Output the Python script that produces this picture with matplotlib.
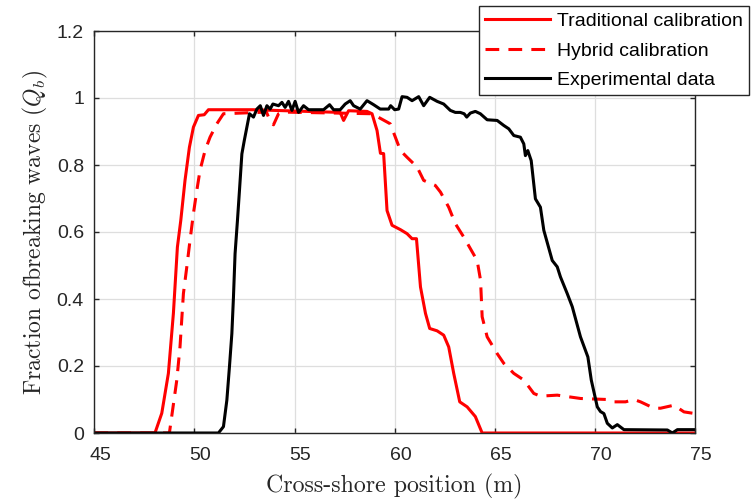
import numpy as np
import matplotlib
matplotlib.use('Agg')
import matplotlib.pyplot as plt
import matplotlib.transforms as mtransforms

# Data
# Traditional calibration (red solid)
x_trad = [45.0, 48.03, 48.37, 48.7, 48.95, 49.15, 49.32, 49.53, 49.75, 49.95, 50.2, 50.49, 50.7,
          52.9, 57.28, 57.45, 57.7, 58.62, 58.87, 59.12, 59.29, 59.45, 59.62, 59.87, 60.29, 60.62,
          60.87, 61.09, 61.29, 61.54, 61.75, 62.12, 62.45, 62.7, 62.95, 63.25, 63.62, 64.03, 64.37, 75.0]
q_trad = [0.0, 0.0, 0.059, 0.178, 0.357, 0.555, 0.635, 0.754, 0.853, 0.913, 0.948, 0.95, 0.965,
          0.965, 0.957, 0.933, 0.962, 0.96, 0.953, 0.903, 0.835, 0.834, 0.664, 0.62, 0.607, 0.595,
          0.58, 0.58, 0.436, 0.357, 0.312, 0.305, 0.292, 0.257, 0.178, 0.093, 0.078, 0.049, 0.0, 0.0]

# Hybrid calibration (red dashed)
x_hyb = [45.0, 48.75, 49.12, 49.28, 49.45, 49.62, 49.78, 49.95, 50.12, 50.28, 50.53, 50.78, 51.12,
         51.45, 53.6, 53.8, 53.95, 54.2, 54.4, 58.87, 59.78, 60.29, 60.62, 61.12, 61.45, 62.03,
         62.29, 62.7, 63.03, 63.45, 64.12, 64.29, 64.37, 64.62, 65.12, 65.45, 65.95, 66.45, 66.95,
         67.28, 68.12, 69.29, 70.62, 70.95, 71.53, 71.95, 72.28, 72.95, 73.28, 73.95, 74.45, 75.0]
q_hyb = [0.0, 0.0, 0.158, 0.257, 0.416, 0.496, 0.575, 0.655, 0.724, 0.784, 0.843, 0.883, 0.923,
         0.953, 0.958, 0.928, 0.92, 0.953, 0.958, 0.953, 0.923, 0.843, 0.823, 0.794, 0.754, 0.739,
         0.719, 0.674, 0.625, 0.585, 0.515, 0.456, 0.347, 0.287, 0.237, 0.208, 0.178, 0.158, 0.118,
         0.11, 0.113, 0.103, 0.1, 0.093, 0.093, 0.1, 0.093, 0.074, 0.074, 0.083, 0.063, 0.058]

# Experimental data (black)
x_exp = [45.0, 51.2, 51.45, 51.62, 51.75, 51.87, 51.95, 52.03, 52.15, 52.25, 52.37, 52.49, 52.62,
         52.75, 52.95, 53.12, 53.29, 53.45, 53.62, 53.78, 53.92, 54.2, 54.37, 54.53, 54.7, 54.87,
         55.03, 55.2, 55.45, 55.7, 56.45, 56.75, 56.95, 57.28, 57.53, 57.78, 57.95, 58.28, 58.62,
         58.95, 59.28, 59.7, 59.8, 60.0, 60.2, 60.37, 60.62, 60.87, 61.2, 61.45, 61.75, 62.12,
         62.45, 62.78, 63.03, 63.28, 63.47, 63.6, 63.78, 64.03, 64.28, 64.62, 65.12, 65.45, 65.7,
         65.95, 66.28, 66.45, 66.53, 66.65, 66.82, 67.03, 67.28, 67.45, 67.87, 68.12, 68.28, 68.62,
         68.87, 69.28, 69.65, 69.82, 70.12, 70.28, 70.45, 70.62, 70.87, 71.12, 71.45, 73.62, 73.87,
         74.12, 75.0]
q_exp = [0.0, 0.0, 0.019, 0.098, 0.198, 0.297, 0.406, 0.535, 0.635, 0.724, 0.833, 0.873, 0.913,
         0.953, 0.943, 0.967, 0.977, 0.948, 0.977, 0.967, 0.982, 0.977, 0.987, 0.972, 0.99, 0.963,
         0.99, 0.957, 0.977, 0.965, 0.965, 0.98, 0.965, 0.965, 0.982, 0.992, 0.977, 0.967, 0.992,
         0.98, 0.967, 0.967, 0.977, 0.965, 0.967, 1.004, 1.002, 0.992, 1.004, 0.977, 1.002, 0.99,
         0.982, 0.963, 0.957, 0.957, 0.953, 0.943, 0.955, 0.96, 0.953, 0.935, 0.933, 0.918, 0.908,
         0.888, 0.883, 0.863, 0.828, 0.843, 0.813, 0.699, 0.674, 0.605, 0.515, 0.496, 0.466, 0.416,
         0.377, 0.287, 0.227, 0.158, 0.078, 0.064, 0.058, 0.029, 0.015, 0.025, 0.01, 0.009, 0.0,
         0.01, 0.01]

xticks = [45, 50, 55, 60, 65, 70, 75]
yticks = [0, 0.2, 0.4, 0.6, 0.8, 1, 1.2]
ytick_labels = ['0', '0.2', '0.4', '0.6', '0.8', '1', '1.2']

plt.rcParams['mathtext.fontset'] = 'cm'
plt.rcParams['font.family'] = ['Liberation Sans', 'DejaVu Sans']

fig = plt.figure(figsize=(7.53, 4.99), dpi=100)
ax = fig.add_axes([94.3/753, 1-433/499, (695-94.3)/753, (433-31)/499])

ax.plot(x_trad, q_trad, color='red', lw=2.2, label='Traditional calibration')
ax.plot(x_hyb, q_hyb, color='red', lw=2.2, ls=(0, (4.5, 3)), label='Hybrid calibration')
ax.plot(x_exp, q_exp, color='black', lw=2.2, label='Experimental data')

ax.set_xlim(45, 75)
ax.set_ylim(0, 1.2)
ax.set_xticks(xticks)
ax.set_yticks(yticks)
ax.set_yticklabels(ytick_labels)
ax.grid(True, color='#dedede', lw=0.9)
ax.set_axisbelow(True)
for s in ax.spines.values():
    s.set_color('#262626')
    s.set_linewidth(1.0)
ax.tick_params(direction='in', length=3.6, width=1.0, color='#262626',
               top=True, right=True, labelsize=14, labelcolor='#262626')
ax.tick_params(axis='x', pad=10)
ax.tick_params(axis='y', pad=7.5)

# tick labels in the reference sit a few px to the right of the ticks
shift = mtransforms.ScaledTranslation(6/100, 0, fig.dpi_scale_trans)
for lab in ax.get_xticklabels():
    lab.set_transform(lab.get_transform() + shift)

ax.set_xlabel('Cross-shore position (m)', fontfamily='cmr10', fontsize=17.2, color='#262626', labelpad=7)
ax.set_ylabel('Fraction ofbreaking waves ($Q_b$)', fontfamily='cmr10', fontsize=17, color='#262626', labelpad=5)

leg = fig.legend(loc='upper left', bbox_to_anchor=(479/753, 1-6/499), fontsize=14,
                 handlelength=3.35, handletextpad=0.33, labelspacing=0.62, borderpad=0.32,
                 borderaxespad=0, fancybox=False, framealpha=1, edgecolor='#262626')
leg.get_frame().set_linewidth(1.0)

fig.savefig('out.png', dpi=100)
